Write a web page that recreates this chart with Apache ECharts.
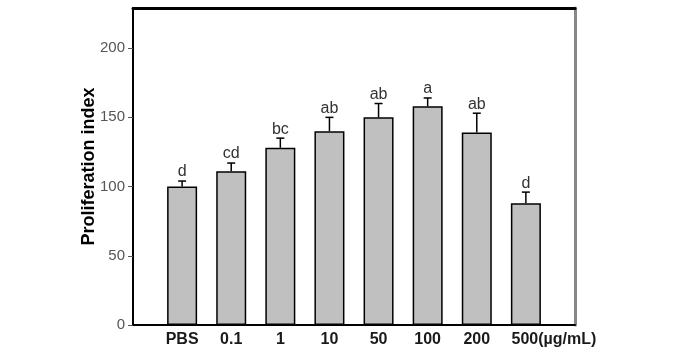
<!DOCTYPE html>
<html><head><meta charset="utf-8">
<script src="https://cdn.jsdelivr.net/npm/echarts@6/dist/echarts.min.js"></script>
<style>html,body{margin:0;padding:0;background:#fff}#c{width:680px;height:361px}</style>
</head><body><div id="c"></div>
<script>
const categories = ['PBS', '0.1', '1', '10', '50', '100', '200', '500(µg/mL)'];
const means = [100, 111, 128, 140, 150, 158, 139, 88];
const errTops = [104, 117, 135, 150, 160, 164, 153, 96];
const letters = ['d', 'cd', 'bc', 'ab', 'ab', 'a', 'ab', 'd'];
const yTicks = [0, 50, 100, 150, 200];

const FONT = '"Liberation Sans", Arial, sans-serif';
const chart = echarts.init(document.getElementById('c'), null, {renderer: 'canvas'});
const last = categories.length - 1;
chart.setOption({
  animation: false,
  grid: {left: 133, top: 8, right: 105, bottom: 36},
  xAxis: [{
    type: 'value', min: -1, max: categories.length, interval: 1,
    axisLine: {onZero: false, lineStyle: {color: '#000', width: 2}},
    axisTick: {show: false}, splitLine: {show: false},
    axisLabel: {
      margin: 7, showMinLabel: false, showMaxLabel: false,
      formatter: v => (v === last ? '{u|' + categories[v] + '}' : (categories[v] !== undefined ? '{b|' + categories[v] + '}' : '')),
      rich: {
        b: {fontFamily: FONT, fontSize: 16, fontWeight: 'bold', color: '#1a1a1a'},
        u: {fontFamily: FONT, fontSize: 16, fontWeight: 'bold', color: '#1a1a1a', padding: [0, 0, 0, 56]}
      }
    }
  }, {
    type: 'value', position: 'top', min: -1, max: categories.length,
    axisLine: {show: true, onZero: false, lineStyle: {color: '#000', width: 3}},
    axisTick: {show: false}, axisLabel: {show: false}, splitLine: {show: false}
  }],
  yAxis: [{
    type: 'value', min: 0, max: 229, interval: 50,
    name: 'Proliferation index', nameLocation: 'middle', nameGap: 35, nameMoveOverlap: false,
    nameTextStyle: {fontFamily: FONT, fontSize: 18, fontWeight: 'bold', color: '#000'},
    axisLine: {show: true, onZero: false, lineStyle: {color: '#000', width: 2}},
    axisTick: {show: true, length: 5, lineStyle: {color: '#555', width: 1}},
    axisLabel: {fontFamily: FONT, fontSize: 15, color: '#555', margin: 8, showMaxLabel: false,
      formatter: v => (yTicks.indexOf(v) >= 0 ? String(v) : '')},
    splitLine: {show: false}
  }, {
    type: 'value', position: 'right', min: 0, max: 229,
    axisLine: {show: true, onZero: false, lineStyle: {color: '#888', width: 3}},
    axisTick: {show: false}, axisLabel: {show: false}, splitLine: {show: false}
  }],
  series: [{
    type: 'bar', barWidth: 30,
    data: means.map((v, i) => [i, v]),
    itemStyle: {color: '#c0c0c0', borderColor: '#000', borderWidth: 1.5}
  }, {
    type: 'custom',
    data: means.map((v, i) => [i, v, errTops[i]]),
    renderItem: (params, api) => {
      const i = api.value(0);
      const b = api.coord([i, api.value(1)]);
      const t = api.coord([i, api.value(2)]);
      const st = {stroke: '#000', lineWidth: 1.5};
      return {type: 'group', children: [
        {type: 'line', shape: {x1: b[0], y1: b[1], x2: t[0], y2: t[1]}, style: st},
        {type: 'line', shape: {x1: t[0] - 4, y1: t[1], x2: t[0] + 4, y2: t[1]}, style: st},
        {type: 'text', style: {text: letters[params.dataIndex], x: t[0], y: t[1] - 1,
          textAlign: 'center', textVerticalAlign: 'bottom', fontFamily: FONT, fontSize: 16, fill: '#333'}}
      ]};
    }
  }]
});
</script></body></html>
